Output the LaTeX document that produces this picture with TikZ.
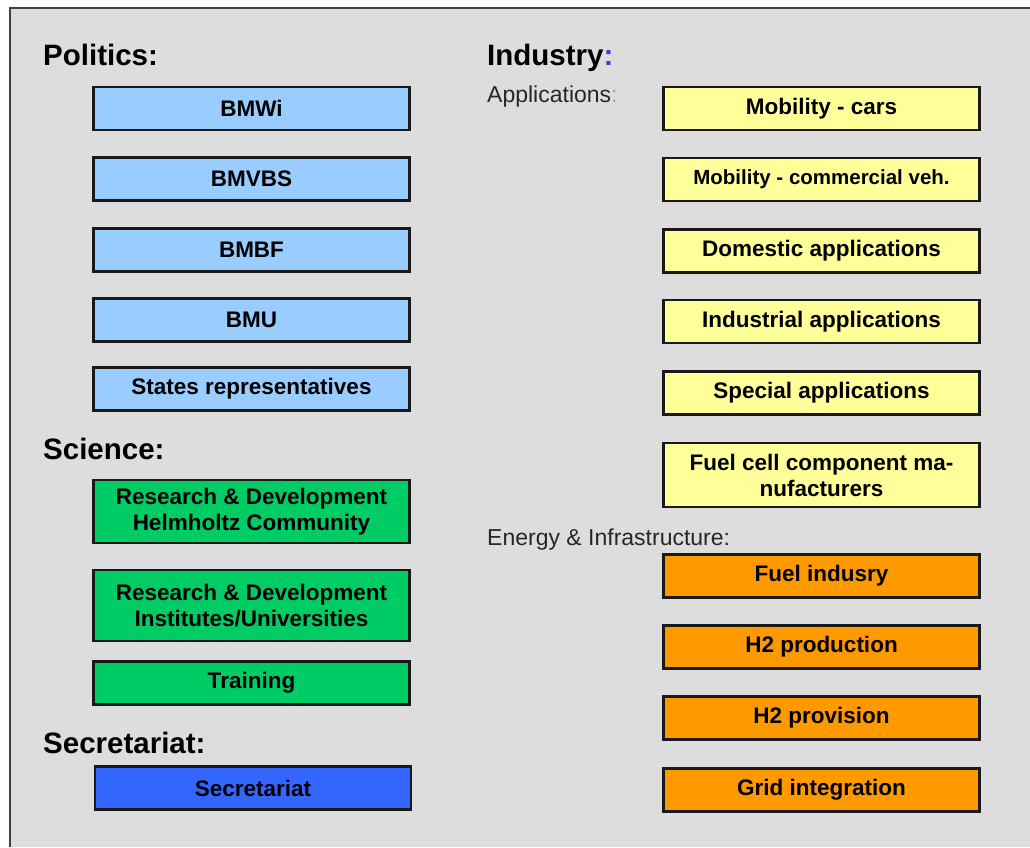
\documentclass[tikz,border=0pt]{standalone}
\usepackage{fontspec}
\setmainfont{Liberation Sans}
\usepackage{tikz}
\definecolor{bg}{RGB}{221, 221, 221}
\definecolor{pol}{RGB}{153, 204, 255}
\definecolor{sci}{RGB}{0, 204, 102}
\definecolor{sec}{RGB}{51, 102, 255}
\definecolor{app}{RGB}{255, 255, 153}
\definecolor{nrg}{RGB}{255, 153, 0}
\definecolor{colon}{RGB}{60, 60, 220}
\usetikzlibrary{positioning}
\def\boxwd{316pt}
\def\boxht{43pt}
\tikzset{
  orgbox/.style={draw=black!90,line width=2.2pt,rectangle,minimum width=\boxwd,inner sep=0pt,align=center,
    font=\bfseries\fontsize{22.5}{26}\selectfont},
  heading/.style={anchor=base west,inner sep=0pt,font=\bfseries\fontsize{29.5}{34}\selectfont},
  subheading/.style={anchor=base west,inner sep=0pt,text=black!85,font=\fontsize{23}{27}\selectfont}
}
\newcommand{\orgbox}[6]{\node[orgbox,fill=#4,minimum height=#5] (#3) at (#1,#2) {#6};}

\begin{document}
\begin{tikzpicture}[x=1pt,y=-1pt]
\useasboundingbox (0,0) rectangle (1030,847);
\fill[white] (0,0) rectangle (1030,847);
\fill[bg] (10,8) rectangle (1030,847);
\draw[black!75,line width=2pt] (1030,8) -- (10,8) -- (10,847);

% politics
\node[heading] (politics) at (43,65) {Politics:};
\orgbox{251.5}{108.5}{bmwi}{pol}{\boxht}{BMWi}
\orgbox{251.5}{179}{bmvbs}{pol}{\boxht}{BMVBS}
\orgbox{251.5}{250}{bmbf}{pol}{\boxht}{BMBF}
\orgbox{251.5}{320}{bmu}{pol}{\boxht}{BMU}
\orgbox{251.5}{389}{states}{pol}{\boxht}{States representatives}

% science
\node[heading] (science) at (43,459) {Science:};
\orgbox{251.5}{511.5}{helmholtz}{sci}{63pt}{Research \& Development\\Helmholtz Community}
\orgbox{251.5}{605.5}{institutes}{sci}{71pt}{Research \& Development\\Institutes/Universities}
\orgbox{251.5}{683}{training}{sci}{\boxht}{Training}

% secretariat
\node[heading] (secretariat) at (43,753) {Secretariat:};
\orgbox{253}{788}{secbox}{sec}{\boxht}{Secretariat}

% industry
\node[heading] (industry) at (487,65) {Industry\textcolor{colon}{:}};
\node[subheading] (applications) at (487,102) {Applications\textcolor{colon!50}{:}};
\orgbox{821.5}{108.5}{cars}{app}{\boxht}{Mobility - cars}
\orgbox{821.5}{179.5}{commercial}{app}{\boxht}{\fontsize{20.5}{24}\selectfont Mobility - commercial veh.}
\orgbox{821.5}{251}{domestic}{app}{\boxht}{Domestic applications}
\orgbox{821.5}{321.5}{industrial}{app}{\boxht}{Industrial applications}
\orgbox{821.5}{393}{special}{app}{\boxht}{Special applications}
\orgbox{821.5}{475}{fuelcell}{app}{64pt}{Fuel cell component ma-\\nufacturers}

\node[subheading] (energy) at (487,545) {Energy \& Infrastructure:};
\orgbox{821.5}{576}{fuel}{nrg}{\boxht}{Fuel indusry}
\orgbox{821.5}{647}{production}{nrg}{\boxht}{H2 production}
\orgbox{821.5}{718}{provision}{nrg}{\boxht}{H2 provision}
\orgbox{821.5}{790}{grid}{nrg}{\boxht}{Grid integration}
\end{tikzpicture}
\end{document}
